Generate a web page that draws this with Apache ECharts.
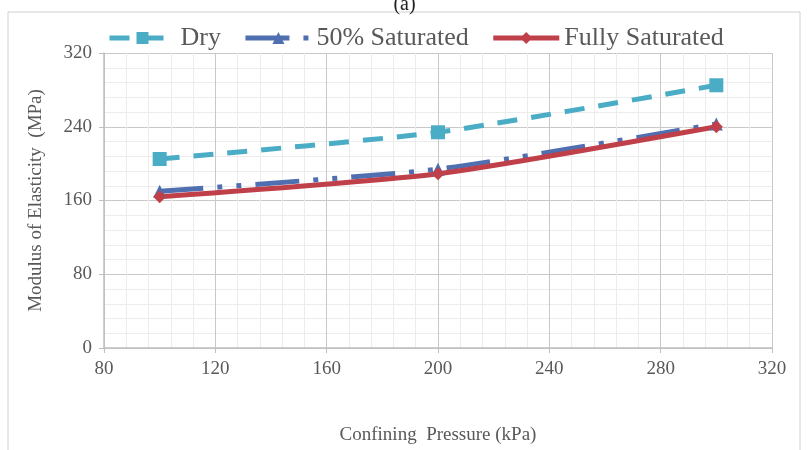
<!DOCTYPE html>
<html>
<head>
<meta charset="utf-8">
<script src="https://cdn.jsdelivr.net/npm/echarts@6/dist/echarts.min.js"></script>
<style>
  html, body { margin: 0; padding: 0; background: #fff; }
  #chart { width: 809px; height: 450px; }
</style>
</head>
<body>
<div id="chart"></div>
<script>
// data
const pressure = [100, 200, 300];
const dry = [205, 234, 285];
const halfSat = [170, 194, 243];
const fullSat = [164, 189, 240];
const seriesNames = ['Dry', '50% Saturated', 'Fully Saturated'];

let myChart = echarts.init(document.getElementById('chart'));
const font = 'Liberation Serif';
const txt = '#595959';

myChart.setOption({
  animation: false,
  textStyle: { fontFamily: font },
  title: {
    text: '(a)',
    left: 'center',
    top: -10,
    textStyle: { fontFamily: font, fontSize: 20, fontWeight: 'normal', color: '#222' }
  },
  graphic: [{
    type: 'rect',
    shape: { x: 8, y: 12, width: 792, height: 450 },
    style: { fill: 'none', stroke: '#d0d0d0', lineWidth: 1 }
  }],
  legend: {
    top: 20,
    left: 102,
    itemWidth: 66,
    itemHeight: 15,
    itemGap: 22,
    lineStyle: { width: 5 },
    textStyle: { fontFamily: font, fontSize: 26, color: txt },
    data: seriesNames
  },
  grid: { left: 104, right: 37, top: 53, bottom: 101 },
  xAxis: {
    type: 'value',
    min: 80, max: 320, interval: 40,
    name: 'Confining  Pressure (kPa)',
    nameLocation: 'middle',
    nameGap: 78,
    nameTextStyle: { fontFamily: font, fontSize: 19, color: txt },
    axisLine: { show: true, lineStyle: { color: '#bfbfbf', width: 1.5 } },
    axisTick: { show: true, length: 5, lineStyle: { color: '#bfbfbf' } },
    axisLabel: { fontFamily: font, fontSize: 19, color: txt, margin: 12 },
    splitLine: { show: true, lineStyle: { color: '#c8c8c8' } },
    minorTick: { show: false, splitNumber: 5 },
    minorSplitLine: { show: true, lineStyle: { color: '#ececec' } }
  },
  yAxis: {
    type: 'value',
    min: 0, max: 320, interval: 80,
    name: 'Modulus of Elasticity  (MPa)',
    nameLocation: 'middle',
    nameGap: 58,
    nameTextStyle: { fontFamily: font, fontSize: 19, color: txt },
    axisLine: { show: true, lineStyle: { color: '#bfbfbf', width: 1.5 } },
    axisTick: { show: true, length: 5, lineStyle: { color: '#bfbfbf' } },
    axisLabel: { fontFamily: font, fontSize: 19, color: txt, margin: 12 },
    splitLine: { show: true, lineStyle: { color: '#c8c8c8' } },
    minorTick: { show: false, splitNumber: 5 },
    minorSplitLine: { show: true, lineStyle: { color: '#ececec' } }
  },
  series: [
    {
      name: seriesNames[0],
      type: 'line',
      data: pressure.map((p, i) => [p, dry[i]]),
      symbol: 'rect',
      symbolSize: 14,
      smooth: 0.2,
      color: '#4bacc6',
      lineStyle: { width: 5, type: [20, 14] }
    },
    {
      name: seriesNames[1],
      type: 'line',
      data: pressure.map((p, i) => [p, halfSat[i]]),
      symbol: 'triangle',
      symbolSize: 13,
      smooth: 0.2,
      color: '#4f6fb0',
      lineStyle: { width: 5, type: [44, 14, 5, 14, 5, 14] }
    },
    {
      name: seriesNames[2],
      type: 'line',
      data: pressure.map((p, i) => [p, fullSat[i]]),
      symbol: 'diamond',
      symbolSize: 13,
      smooth: 0.2,
      color: '#c0404a',
      lineStyle: { width: 5 }
    }
  ]
});

window.addEventListener('resize', () => {
  if (myChart) myChart.resize();
});
</script>
</body>
</html>
